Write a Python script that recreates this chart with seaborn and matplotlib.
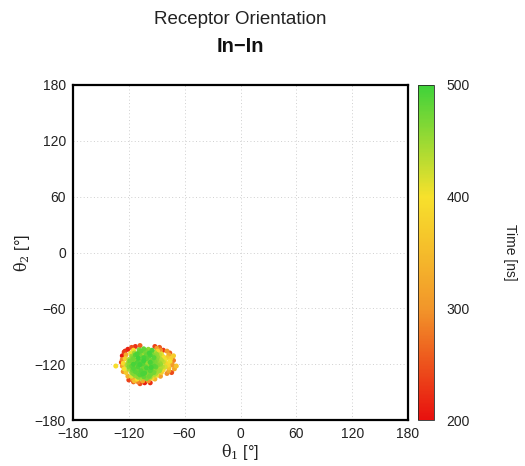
import numpy as np
import pandas as pd
import matplotlib
matplotlib.use("Agg")
import matplotlib.pyplot as plt
import seaborn as sns
from matplotlib.colors import LinearSegmentedColormap, Normalize
from matplotlib.cm import ScalarMappable

# Receptor orientation angles (degrees) and simulation time (ns) for each frame
theta1 = [
    # late frames (green core)
    -109, -104, -99, -95,
    -114, -109, -103, -98, -92,
    -117, -113, -108, -102, -97, -92, -87,
    -120, -115, -110, -105, -101, -96, -91, -86,
    -121, -116, -111, -107, -102, -97, -92, -87, -83,
    -122, -117, -113, -108, -103, -98, -93, -89, -84,
    -120, -115, -110, -105, -101, -96, -91, -86,
    -117, -113, -108, -103, -98, -93, -89,
    -113, -108, -103, -98, -93,
    -107, -101,
    -107, -102, -97,
    -111, -105, -101, -95, -90,
    -116, -110, -104, -99, -93, -89,
    -119, -114, -109, -104, -99, -95, -90, -85,
    -120, -115, -110, -105, -101, -96, -91, -86,
    -120, -115, -110, -105, -101, -96, -91, -86,
    -116, -111, -107, -102, -97, -92, -87,
    -115, -110, -105, -101, -96, -91,
    -110, -104, -97,
    # intermediate frames (yellow)
    -85, -83, -81, -80, -81, -83, -85, -79, -78, -76, -90, -95, -111, -117,
    -123, -125, -126, -124, -118, -115, -89, -72, -69, -134, -114, -77, -75,
    # intermediate frames (orange)
    -77, -75, -73, -77, -79, -86, -92, -99, -105, -110, -116, -121, -126,
    -127, -127, -123, -90, -86, -72, -71, -79,
    # early frames (red)
    -125, -121, -117, -113, -108, -127, -128, -124, -92, -87, -83, -103,
    -108, -97, -115, -120, -76, -74,
]
theta2 = [
    -104.5, -103.5, -104, -105,
    -108, -107, -106.5, -108, -107.5,
    -111.5, -110, -111, -112, -110.5, -111.5, -110,
    -115, -114, -113.5, -115, -114, -115.5, -114, -114.5,
    -118.5, -117.5, -118, -117, -119, -118, -117, -118.5, -117.5,
    -121, -122, -121.5, -120.5, -122.5, -121, -122, -121, -122.5,
    -125.5, -124.5, -125, -126, -124, -125.5, -124.5, -125,
    -129, -128, -128.5, -129.5, -128, -129, -128,
    -132.5, -131.5, -132, -133, -131.5,
    -135, -135.5,
    -106, -105.5, -106,
    -109, -109.5, -110, -109, -109.5,
    -113, -112, -113, -112.5, -113, -112.5,
    -116.5, -116, -116, -116.5, -116, -116.5, -115.5, -116,
    -119.5, -120, -120, -119.5, -120.5, -120, -119.5, -120,
    -123, -123.5, -123, -123.5, -122.5, -123.5, -123, -123.5,
    -126.5, -127, -127, -126.5, -127, -126.5, -127,
    -130.5, -130, -130.5, -131, -130.5, -130,
    -134, -133.5, -134,
    -109, -112, -115, -119, -123, -126, -129, -113, -121, -117, -132, -135, -136, -133,
    -129, -125, -119, -114, -108, -105, -106, -111, -122, -122, -138, -124, -114,
    -110, -118, -121, -127, -130, -133, -136, -138, -138, -139, -136, -133, -128,
    -122, -115, -110, -103, -105, -116, -125, -106,
    -107, -104, -102, -101, -100, -111, -118, -106, -101, -102, -105, -140,
    -141, -140, -139, -137, -108, -129,
]
time_ns = [
    468, 482, 455, 491,
    447, 476, 463, 497, 439,
    452, 488, 471, 444, 493, 459, 428,
    436, 474, 499, 457, 485, 466, 441, 433,
    429, 462, 490, 478, 451, 495, 469, 445, 425,
    438, 481, 456, 498, 472, 449, 486, 461, 431,
    443, 489, 467, 453, 494, 477, 448, 437,
    458, 483, 446, 492, 464, 471, 440,
    450, 487, 460, 475, 434,
    442, 466,
    484, 470, 459,
    493, 448, 480, 465, 453,
    462, 445, 496, 473, 487, 450,
    470, 441, 484, 499, 461, 476, 458, 436,
    457, 495, 468, 486, 447, 479, 463, 452,
    466, 444, 491, 473, 458, 497, 482, 439,
    475, 452, 488, 469, 485, 456, 447,
    463, 479, 494, 454, 470, 442,
    457, 481, 448,
    412, 398, 405, 381, 417, 392, 376, 365, 388, 402, 409, 385, 395, 413,
    368, 403, 390, 374, 407, 399, 383, 372, 358, 395, 351, 361, 377,
    332, 318, 305, 327, 296, 314, 339, 301, 322, 288, 310, 335, 298,
    316, 289, 328, 311, 294, 283, 324, 302,
    232, 214, 248, 225, 260, 205, 241, 219, 236, 253, 228, 211,
    246, 223, 262, 238, 257, 244,
]

tick_vals = [-180, -120, -60, 0, 60, 120, 180]
cbar_ticks = [200, 300, 400, 500]

df = pd.DataFrame({"theta1": theta1, "theta2": theta2, "time": time_ns})
df = df.sort_values("time")

sns.set_theme(style="white")
plt.rcParams["font.family"] = ["Liberation Sans", "DejaVu Sans"]
plt.rcParams["mathtext.fontset"] = "dejavuserif"

cmap = LinearSegmentedColormap.from_list(
    "time_cmap",
    [(0.0, "#e8100e"), (0.333, "#f2962a"), (0.667, "#f7e12c"), (1.0, "#3fd23a")],
)
norm = Normalize(vmin=200, vmax=500)

fig = plt.figure(figsize=(5.25, 4.66), dpi=100)
ax = fig.add_axes([73 / 525, 1 - 420 / 466, 335 / 525, 335 / 466])

sns.scatterplot(
    data=df, x="theta1", y="theta2", hue="time", palette=cmap, hue_norm=norm,
    s=13, linewidth=0, legend=False, ax=ax,
)

ax.set_xlim(-180, 180)
ax.set_ylim(-180, 180)
ax.set_xticks(tick_vals)
ax.set_yticks(tick_vals)
ax.grid(True, linestyle=(0, (1, 2.5)), color="#cfcfcf", linewidth=0.7)
ax.tick_params(length=0, labelsize=10, colors="#222222", pad=5)
for sp in ax.spines.values():
    sp.set_color("black")
    sp.set_linewidth(1.6)
ax.set_xlabel(r"$\mathrm{\theta}_1$ [°]", fontsize=11.5, color="#222222", labelpad=1)
ax.set_ylabel(r"$\mathrm{\theta}_2$ [°]", fontsize=11.5, color="#222222", labelpad=2)

cax = fig.add_axes([418 / 525, 1 - 420 / 466, 16 / 525, 335 / 466])
cb = fig.colorbar(ScalarMappable(norm=norm, cmap=cmap), cax=cax)
cb.set_ticks(cbar_ticks)
cb.ax.tick_params(length=0, labelsize=10, colors="#222222", pad=9)
cb.outline.set_linewidth(0.6)
cb.set_label("Time [ns]", rotation=-90, fontsize=10, color="#222222", labelpad=34)

fig.text(240 / 525, 1 - 20 / 466, "Receptor Orientation", ha="center", va="center",
         fontsize=13.5, color="#222222")
fig.text(240 / 525, 1 - 46 / 466, "In\u2212In", ha="center", va="center",
         fontsize=14.5, fontweight="bold", color="#111111")

fig.savefig("out.png", dpi=100, facecolor="white")
